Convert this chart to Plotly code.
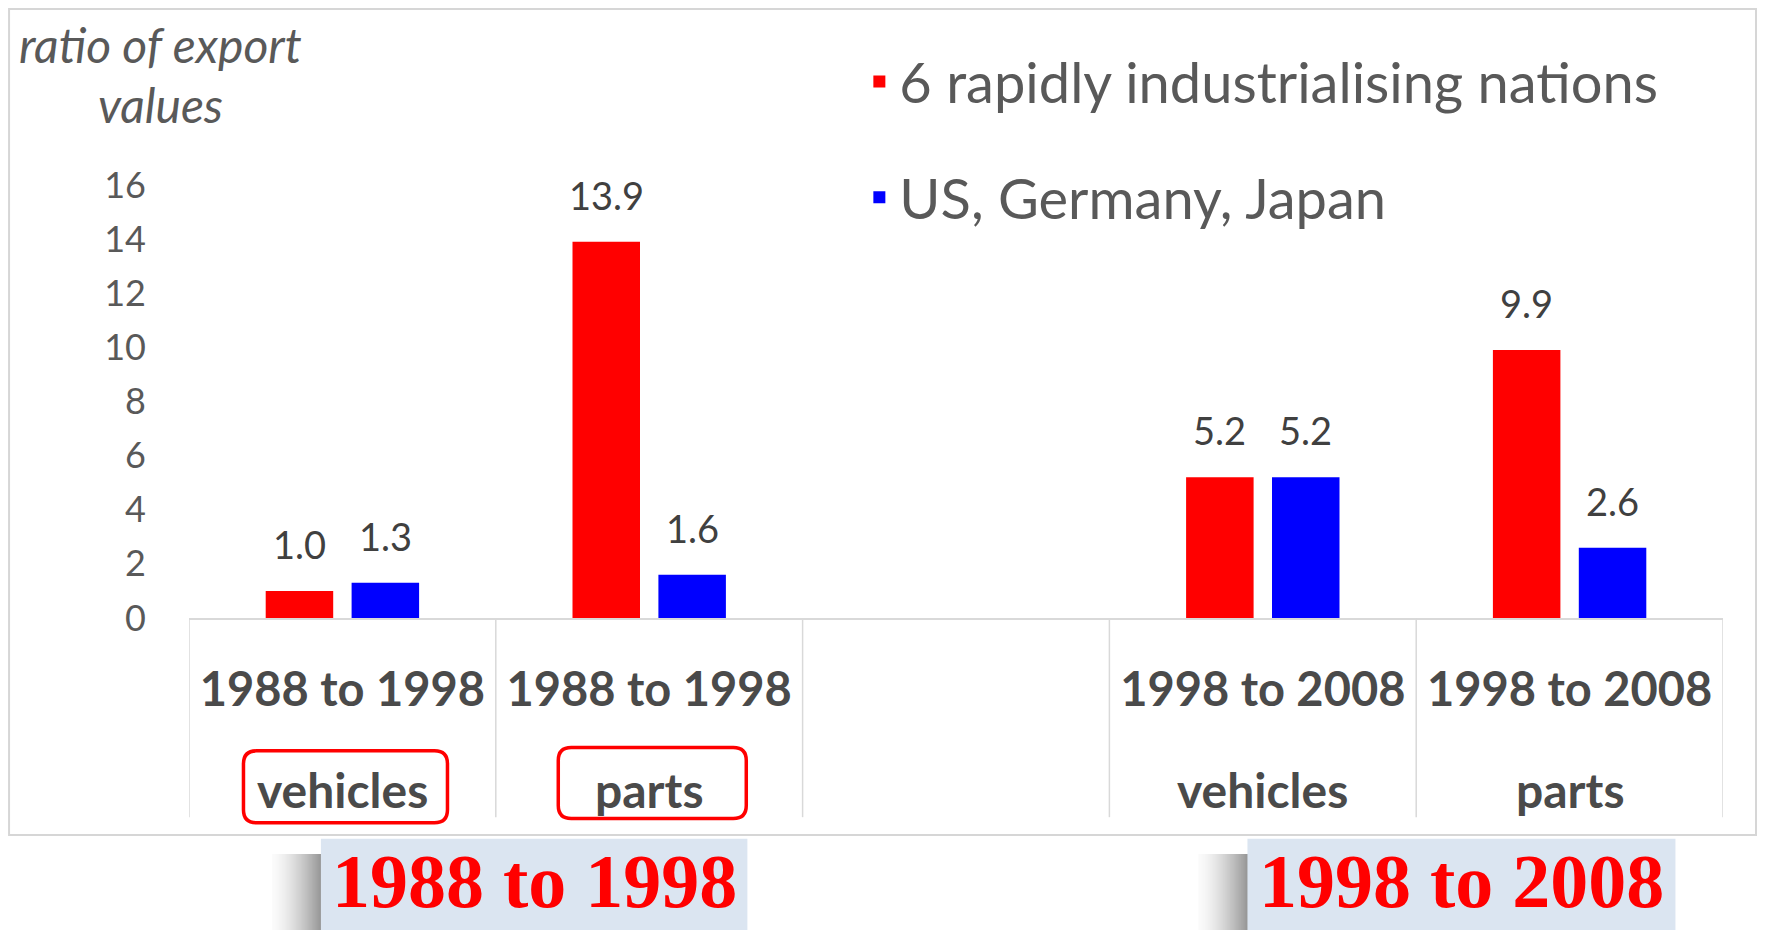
import plotly.graph_objects as go

# data
periods = ["1988 to 1998", "1988 to 1998", "1998 to 2008", "1998 to 2008"]
products = ["vehicles", "parts", "vehicles", "parts"]
slots = [0, 1, 3, 4]          # slot 2 is the empty gap between the decades
rapid = [1.0, 13.9, 5.2, 9.9]
established = [1.3, 1.6, 5.2, 2.6]
series_names = ["6 rapidly industrialising nations", "US, Germany, Japan"]
series_colors = ["#ff0000", "#0000ff"]
y_ticks = [0, 2, 4, 6, 8, 10, 12, 14, 16]
decade_titles = ["1988 to 1998", "1998 to 2008"]
boxed_products = [0, 1]       # index of the sub labels circled in red

BAR_W = 0.22
OFFSETS = [-0.25, 0.03]
FONT = "Lato"

fig = go.Figure()
for name, vals, col, off in zip(series_names, [rapid, established], series_colors, OFFSETS):
    fig.add_trace(go.Bar(
        x=slots, y=vals, name=name, legendgroup=name,
        marker=dict(color=col, line=dict(width=0)),
        width=BAR_W, offset=off, hoverinfo="skip",
    ))
    # value labels over the bars
    for xv, yv in zip(slots, vals):
        fig.add_annotation(
            x=xv + off + BAR_W / 2, y=yv, text=f"{yv:.1f}", showarrow=False,
            xanchor="center", yanchor="middle", yshift=47,
            font=dict(family=FONT, size=38, color="#404040"),
        )

# second row of category labels
for xv, txt in zip(slots, products):
    fig.add_annotation(
        x=xv, y=-0.396, xref="x", yref="paper", text=f"<b>{txt}</b>", showarrow=False,
        xanchor="center", yanchor="middle", font=dict(family=FONT, size=48, color="#4a4a4a"),
    )

# separators between categories
for b in [-0.5, 0.5, 1.5, 2.5, 3.5, 4.5]:
    fig.add_shape(type="line", xref="x", yref="paper", x0=b, x1=b, y0=0, y1=-0.46,
                  line=dict(color="#d9d9d9", width=1.5))


def rounded_box(w, h, r):
    x0, x1, y0, y1 = -w / 2, w / 2, -h / 2, h / 2
    return (f"M{x0 + r},{y0} L{x1 - r},{y0} Q{x1},{y0} {x1},{y0 + r} "
            f"L{x1},{y1 - r} Q{x1},{y1} {x1 - r},{y1} L{x0 + r},{y1} "
            f"Q{x0},{y1} {x0},{y1 - r} L{x0},{y0 + r} Q{x0},{y0} {x0 + r},{y0} Z")


for i, (w, h, ya) in zip(boxed_products, [(204, 72, -0.39), (188, 71, -0.381)]):
    fig.add_shape(type="path", xref="x", yref="paper", xsizemode="pixel", ysizemode="pixel",
                  xanchor=slots[i] + 0.01, yanchor=ya, path=rounded_box(w, h, 13),
                  line=dict(color="#ff0000", width=3.5))

# chart frame
fig.add_shape(type="rect", xref="paper", yref="paper", x0=-0.1173, x1=1.0215, y0=-0.501, y1=1.4065,
              line=dict(color="#d6d6d6", width=2), layer="below")

# decade title boxes with soft shadow on the left
for title, (bx0, bx1) in zip(decade_titles, [(0.086, 0.364), (0.690, 0.969)]):
    n = 40
    sw = 0.032
    for k in range(n):
        g = int(252 - 100 * ((k + 1) / n) ** 1.5)
        fig.add_shape(type="rect", xref="paper", yref="paper",
                      x0=bx0 - sw + sw * k / n, x1=bx0 - sw + sw * (k + 1) / n + 0.0005,
                      y0=-0.73, y1=-0.545, line=dict(width=0),
                      fillcolor=f"rgb({g},{g},{g})")
    fig.add_shape(type="rect", xref="paper", yref="paper", x0=bx0, x1=bx1, y0=-0.73, y1=-0.51,
                  line=dict(width=0), fillcolor="#dbe5f1")
    fig.add_annotation(x=(bx0 + bx1) / 2, y=-0.607, xref="paper", yref="paper", text=f"<b>{title}</b>",
                       showarrow=False, xanchor="center", yanchor="middle",
                       font=dict(family="Liberation Serif", size=76, color="#ff0000"))

# y axis title
fig.add_annotation(x=-0.0189, y=1.324, xref="paper", yref="paper", text="<i>ratio of export</i>",
                   showarrow=False, xanchor="center", yanchor="middle",
                   font=dict(family=FONT, size=48, color="#595959"))
fig.add_annotation(x=-0.0189, y=1.186, xref="paper", yref="paper", text="<i>values</i>",
                   showarrow=False, xanchor="center", yanchor="middle",
                   font=dict(family=FONT, size=48, color="#595959"))

# the page body keeps an 8px margin, so the figure is shifted by it
fig.update_layout(
    width=1769, height=922,
    margin=dict(l=181, r=54, t=177, b=312),
    paper_bgcolor="white", plot_bgcolor="white",
    barmode="group", hovermode=False,
    legend=dict(x=0.437, y=1.338, xanchor="left", yanchor="top", tracegroupgap=40,
                font=dict(family=FONT, size=56, color="#595959"), bgcolor="rgba(0,0,0,0)"),
)
fig.update_xaxes(
    range=[-0.5, 4.5], tickmode="array", tickvals=slots,
    ticktext=[f"<b>{p}</b>" for p in periods],
    showline=True, linecolor="#d9d9d9", linewidth=1.5, showgrid=False, zeroline=False,
    ticks="", ticklabelstandoff=30,
    tickfont=dict(family=FONT, size=47, color="#4a4a4a"),
)
fig.update_yaxes(
    range=[0, 16], tickmode="array", tickvals=y_ticks, showgrid=False, zeroline=False,
    showline=False, ticks="", ticklabelstandoff=42,
    tickfont=dict(family=FONT, size=36, color="#595959"),
)

fig.write_html("out.html")
